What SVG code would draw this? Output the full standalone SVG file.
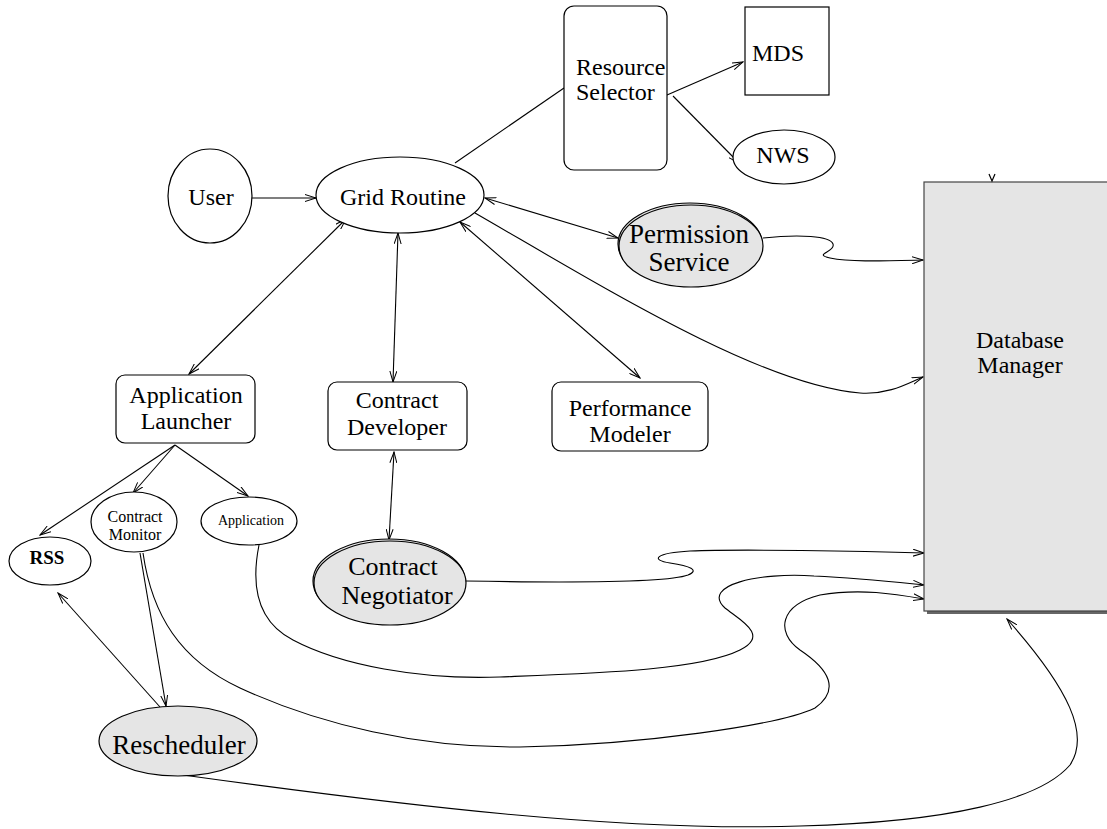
<svg xmlns="http://www.w3.org/2000/svg" width="1107" height="829" viewBox="0 0 1107 829">
  <defs>
    <marker id="arr" viewBox="0 0 12 8" refX="11" refY="4" markerWidth="12" markerHeight="8" markerUnits="userSpaceOnUse" orient="auto-start-reverse">
      <path d="M0,0.5 L11,4 L0,7.5" fill="none" stroke="#000" stroke-width="1"/>
    </marker>
    <style>
      .node { fill: #fff; stroke: #000; stroke-width: 1.2; }
      .grey { fill: #e5e5e5; stroke: #000; stroke-width: 1.2; }
      .lbl { font-family: "Liberation Serif", "Times New Roman", serif; font-size: 24px; fill: #000; text-anchor: middle; }
      .big { font-size: 27px; }
      .edge { fill: none; stroke: #000; stroke-width: 1.1; }
      .one { marker-end: url(#arr); }
      .two { marker-start: url(#arr); marker-end: url(#arr); }
    </style>
  </defs>

  <!-- connectors -->
  <g id="connectors">
    <path class="edge one" d="M250,198 L316,198"/>
    <path class="edge" d="M455,163 L564,88"/>
    <path class="edge one" d="M667,95 L743,62"/>
    <path class="edge one" d="M673,96 L739,163"/>
    <path class="edge two" d="M346,219 L189,374"/>
    <path class="edge two" d="M398,233 L393,382"/>
    <path class="edge two" d="M485,198 L618,238"/>
    <path class="edge two" d="M460,222 L640,378"/>
    <path class="edge one" d="M475,213 C600,285 760,385 860,393 C890,395 910,382 923,377"/>
    <path class="edge one" d="M763,238 C800,234 830,236 833,244 C836,252 812,254 830,258 C850,262 880,261 923,260"/>
    <path class="edge two" d="M394,452 L389,540"/>
    <path class="edge one" d="M465,581 C580,583 670,582 688,575 C700,570 690,566 670,563 C650,560 655,553 690,551 C740,549 860,551 924,553"/>
    <path class="edge one" d="M259,545 C252,580 254,620 293,640 C340,665 420,680 500,677 C600,673 700,670 740,650 C770,635 740,620 725,608 C700,585 760,572 814,576 C860,578 895,582 924,585"/>
    <path class="edge one" d="M143,553 C152,615 180,660 240,688 C320,725 420,748 520,747 C640,745 780,725 815,708 C840,690 830,670 800,650 C775,632 780,605 820,595 C860,588 895,594 924,599"/>
    <path class="edge one" d="M183,775 C400,805 620,832 800,826 C950,822 1040,800 1070,765 C1090,735 1070,690 1007,619"/>
    <path class="edge one" d="M175,445 L40,535"/>
    <path class="edge one" d="M175,445 L133,493"/>
    <path class="edge one" d="M175,445 L248,496"/>
    <path class="edge one" d="M140,553 L166,706"/>
    <path class="edge one" d="M160,707 L58,593"/>
  </g>

  <g id="db-manager">
    <rect x="927" y="185" width="200" height="429" fill="#666"/>
    <rect x="924" y="182" width="200" height="429" fill="#e5e5e5" stroke="#444" stroke-width="1.2"/>
    <path d="M989,174 L992,181 L995,174" fill="none" stroke="#000" stroke-width="1.2"/>
    <text class="lbl" x="1020" y="348">Database</text>
    <text class="lbl" x="1020" y="373">Manager</text>
  </g>

  <g id="user">
    <ellipse class="node" cx="210" cy="196" rx="42" ry="47"/>
    <text class="lbl" x="211" y="205">User</text>
  </g>

  <g id="grid-routine">
    <ellipse class="node" cx="400" cy="195" rx="84" ry="38"/>
    <text class="lbl" x="403" y="205">Grid Routine</text>
  </g>

  <g id="resource-selector">
    <rect class="node" x="564" y="6" width="103" height="164" rx="10"/>
    <text class="lbl" x="576" y="75" style="text-anchor:start">Resource</text>
    <text class="lbl" x="576" y="100" style="text-anchor:start">Selector</text>
  </g>

  <g id="mds">
    <rect class="node" x="745" y="7" width="84" height="88"/>
    <text class="lbl" x="752" y="61" style="text-anchor:start">MDS</text>
  </g>

  <g id="nws">
    <ellipse class="node" cx="784" cy="157" rx="51" ry="27"/>
    <text class="lbl" x="783" y="163">NWS</text>
  </g>

  <g id="permission-service">
    <ellipse class="grey" cx="690" cy="244" rx="72" ry="41"/>
    <ellipse class="grey" cx="691" cy="246" rx="72" ry="41"/>
    <text class="lbl big" x="689" y="243">Permission</text>
    <text class="lbl big" x="689" y="271">Service</text>
  </g>

  <g id="application-launcher">
    <rect class="node" x="116" y="375" width="139" height="68" rx="9"/>
    <text class="lbl" x="186" y="403">Application</text>
    <text class="lbl" x="186" y="429">Launcher</text>
  </g>

  <g id="contract-developer">
    <rect class="node" x="328" y="382" width="139" height="68" rx="9"/>
    <text class="lbl" x="397" y="408">Contract</text>
    <text class="lbl" x="397" y="435">Developer</text>
  </g>

  <g id="performance-modeler">
    <rect class="node" x="552" y="382" width="156" height="69" rx="9"/>
    <text class="lbl" x="630" y="416">Performance</text>
    <text class="lbl" x="630" y="442">Modeler</text>
  </g>

  <g id="contract-negotiator">
    <ellipse class="grey" cx="389" cy="581" rx="76" ry="42"/>
    <ellipse class="grey" cx="390" cy="583" rx="76" ry="42"/>
    <text class="lbl" x="393" y="575" style="font-size:26px">Contract</text>
    <text class="lbl" x="397" y="604" style="font-size:26px">Negotiator</text>
  </g>

  <g id="rss">
    <ellipse class="node" cx="50" cy="561" rx="41" ry="24"/>
    <text class="lbl" x="47" y="564" style="font-size:19px;font-weight:bold">RSS</text>
  </g>

  <g id="contract-monitor">
    <ellipse class="node" cx="134" cy="522" rx="43" ry="30"/>
    <text class="lbl" x="135" y="522" style="font-size:16px">Contract</text>
    <text class="lbl" x="135" y="540" style="font-size:16px">Monitor</text>
  </g>

  <g id="application">
    <ellipse class="node" cx="249" cy="521" rx="48" ry="24"/>
    <text class="lbl" x="251" y="525" style="font-size:14px">Application</text>
  </g>

  <g id="rescheduler">
    <ellipse class="grey" cx="178" cy="741" rx="79" ry="35"/>
    <text class="lbl big" x="179" y="754">Rescheduler</text>
  </g>
</svg>
